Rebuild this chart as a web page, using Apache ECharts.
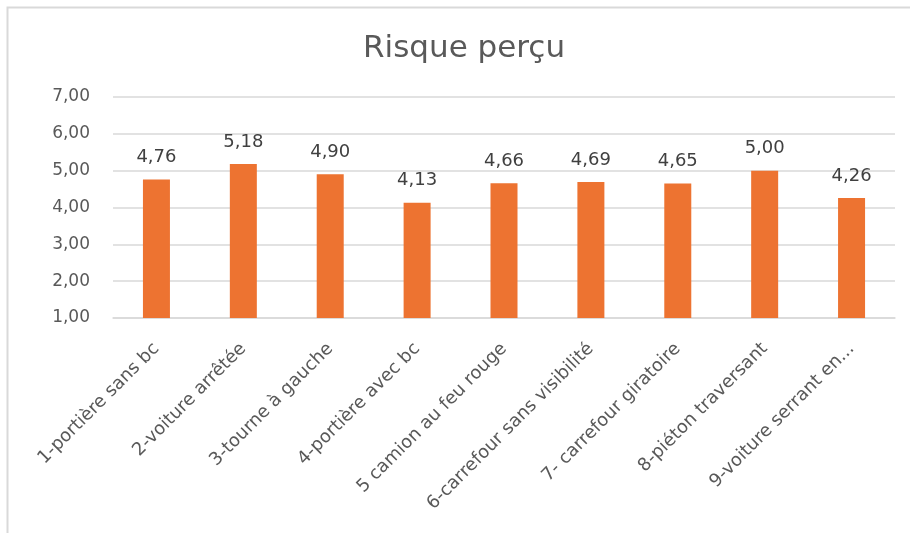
<!DOCTYPE html>
<html>
<head>
<meta charset="utf-8">
<script src="https://cdn.jsdelivr.net/npm/echarts@6/dist/echarts.min.js"></script>
<style>
  html, body { margin: 0; padding: 0; background: #fff; }
  #chart { width: 910px; height: 533px; }
</style>
</head>
<body>
<div id="chart"></div>
<script>
// données
const categories = [
	"1-portière sans bc",
	"2-voiture arrêtée",
	"3-tourne à gauche",
	"4-portière avec bc",
	"5 camion au feu rouge",
	"6-carrefour sans visibilité",
	"7- carrefour giratoire",
	"8-piéton traversant",
	"9-voiture serrant en...",
];
const values = [4.76, 5.18, 4.9, 4.13, 4.66, 4.69, 4.65, 5.0, 4.26];
const yTicks = [1, 2, 3, 4, 5, 6, 7];

const fmt = (v) => v.toFixed(2).replace(".", ",");
const font = "DejaVu Sans";

let myChart = echarts.init(document.getElementById("chart"));

const option = {
	backgroundColor: "#fff",
	// cadre gris autour du graphique
	graphic: [
		{
			type: "rect",
			shape: { x: 7.5, y: 7.5, width: 920, height: 540 },
			style: { fill: "none", stroke: "#d9d9d9", lineWidth: 2 },
		},
	],
	title: {
		text: "Risque perçu",
		left: 363,
		top: 33,
		padding: 0,
		textStyle: {
			color: "#595959",
			fontSize: 31,
			fontWeight: "normal",
			fontFamily: font,
		},
	},
	grid: {
		left: 113,
		right: 15,
		top: 97,
		bottom: 215,
	},
	xAxis: {
		type: "category",
		data: categories,
		axisTick: { show: false },
		axisLine: { lineStyle: { color: "#d9d9d9", width: 1.5 } },
		axisLabel: {
			rotate: 45,
			interval: 0,
			color: "#595959",
			fontSize: 18,
			fontFamily: font,
			margin: 28,
		},
	},
	yAxis: {
		type: "value",
		min: yTicks[0],
		max: yTicks[yTicks.length - 1],
		interval: 1,
		axisLine: { show: false },
		axisTick: { show: false },
		axisLabel: {
			color: "#595959",
			fontSize: 17,
			fontFamily: font,
			margin: 23,
			formatter: (v) => fmt(v),
		},
		splitLine: { lineStyle: { color: "#d9d9d9", width: 1.5 } },
	},
	series: [
		{
			type: "bar",
			data: values,
			barWidth: 27,
			itemStyle: { color: "#ed7331" },
			label: {
				show: true,
				position: "top",
				distance: 13,
				color: "#404040",
				fontSize: 18,
				fontFamily: font,
				formatter: (p) => fmt(p.value),
			},
		},
	],
};

myChart.setOption(option);
</script>
</body>
</html>
